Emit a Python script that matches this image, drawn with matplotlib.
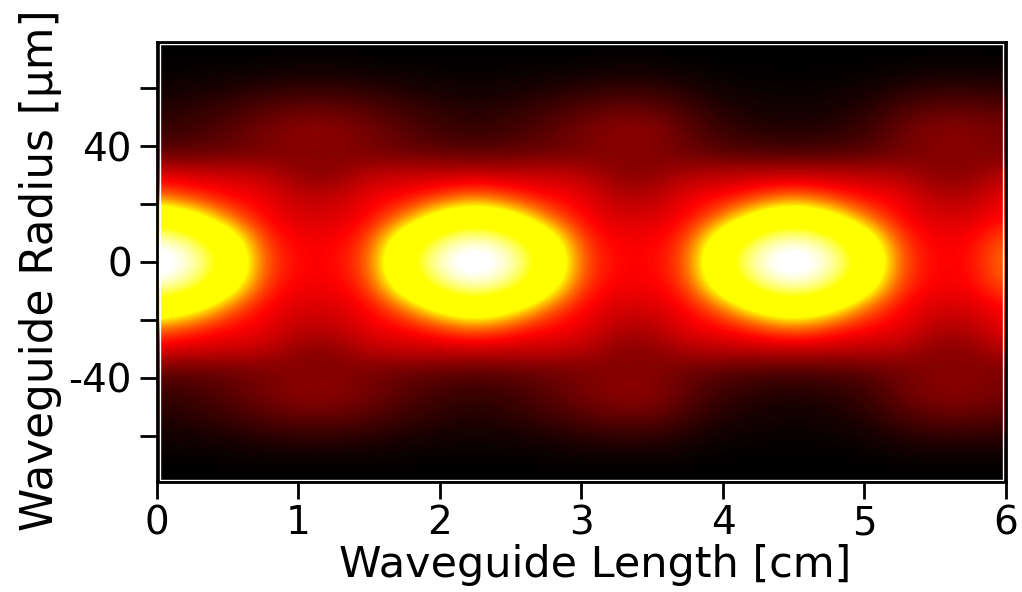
import numpy as np
import matplotlib.pyplot as plt
from matplotlib.colors import LinearSegmentedColormap
from matplotlib.patches import Rectangle

plt.rcParams['font.family'] = ['DejaVu Sans']
plt.rcParams['axes.unicode_minus'] = False

# sample positions of the intensity map
length_cm = np.linspace(0, 6, 25)          # 0, 0.25, ... 6
radius_um = [0, 7.5, 15, 22.5, 30, 37.5, 45, 52.5, 60, 67.5, 75]

# normalised intensity, upper half (radius >= 0),
# one row per radius, one column per length position
intensity_upper = np.array([
    [1.00, 0.92, 0.64, 0.27, 0.21, 0.21, 0.27, 0.64, 0.92, 1.00, 0.92, 0.64, 0.27, 0.21, 0.21, 0.27, 0.64, 0.92, 1.00, 0.92, 0.64, 0.27, 0.21, 0.21, 0.32],
    [0.92, 0.82, 0.54, 0.25, 0.205, 0.205, 0.25, 0.54, 0.82, 0.92, 0.82, 0.54, 0.25, 0.205, 0.205, 0.25, 0.54, 0.82, 0.92, 0.82, 0.54, 0.25, 0.205, 0.205, 0.29],
    [0.62, 0.50, 0.31, 0.21, 0.18, 0.18, 0.21, 0.31, 0.50, 0.62, 0.50, 0.31, 0.21, 0.18, 0.18, 0.21, 0.31, 0.50, 0.62, 0.50, 0.31, 0.21, 0.18, 0.18, 0.22],
    [0.30, 0.25, 0.21, 0.20, 0.16, 0.16, 0.20, 0.21, 0.25, 0.30, 0.25, 0.21, 0.20, 0.15, 0.15, 0.20, 0.21, 0.25, 0.30, 0.25, 0.21, 0.20, 0.15, 0.15, 0.20],
    [0.19, 0.18, 0.175, 0.165, 0.12, 0.115, 0.16, 0.17, 0.17, 0.17, 0.17, 0.17, 0.16, 0.115, 0.115, 0.15, 0.16, 0.165, 0.165, 0.165, 0.16, 0.15, 0.115, 0.115, 0.16],
    [0.085, 0.085, 0.09, 0.10, 0.11, 0.11, 0.10, 0.09, 0.085, 0.08, 0.085, 0.09, 0.10, 0.11, 0.11, 0.09, 0.075, 0.07, 0.065, 0.07, 0.075, 0.095, 0.11, 0.11, 0.10],
    [0.045, 0.055, 0.075, 0.10, 0.12, 0.12, 0.10, 0.075, 0.055, 0.045, 0.055, 0.075, 0.10, 0.12, 0.12, 0.08, 0.05, 0.035, 0.03, 0.035, 0.05, 0.09, 0.115, 0.115, 0.10],
    [0.03, 0.04, 0.055, 0.075, 0.09, 0.09, 0.075, 0.055, 0.04, 0.03, 0.04, 0.055, 0.075, 0.09, 0.09, 0.06, 0.03, 0.02, 0.015, 0.02, 0.035, 0.065, 0.085, 0.085, 0.075],
    [0.015, 0.018, 0.025, 0.035, 0.042, 0.042, 0.035, 0.025, 0.018, 0.015, 0.018, 0.025, 0.035, 0.042, 0.042, 0.028, 0.012, 0.01, 0.008, 0.01, 0.015, 0.03, 0.04, 0.04, 0.035],
    [0.005, 0.005, 0.007, 0.009, 0.011, 0.011, 0.009, 0.007, 0.005, 0.005, 0.005, 0.007, 0.009, 0.011, 0.011, 0.007, 0.004, 0.003, 0.003, 0.003, 0.004, 0.008, 0.01, 0.01, 0.009],
    [0.0] * 25,
])

# field is symmetric about the waveguide axis
intensity = np.vstack([intensity_upper[::-1], intensity_upper[1:]])

# black -> red -> yellow -> white
cmap = LinearSegmentedColormap.from_list('wg', [
    (0.00, (0, 0, 0)),
    (0.21, (1, 0, 0)),
    (0.42, (1, 1, 0)),
    (0.70, (1, 1, 0)),
    (0.93, (1, 1, 1)),
    (1.00, (1, 1, 1)),
])

dx = (length_cm[1] - length_cm[0]) / 2
dy = (radius_um[1] - radius_um[0]) / 2

fig = plt.figure(figsize=(10.22, 5.92), dpi=100)
ax = fig.add_axes([0.1536, 0.186, 0.8307, 0.743])
ax.imshow(intensity, cmap=cmap, vmin=0, vmax=1, origin='lower', aspect='auto',
          interpolation='bicubic',
          extent=[length_cm[0] - dx, length_cm[-1] + dx,
                  -radius_um[-1] - dy, radius_um[-1] + dy])
ax.set_xlim(0, 6)
ax.set_ylim(-76, 76)

ax.set_xticks(range(7))
ax.set_yticks([-40, 0, 40])
ax.set_yticks([-60, -20, 20, 60], minor=True)
ax.tick_params(which='both', direction='out', length=12, width=2, labelsize=28, pad=6)
ax.tick_params(axis='x', pad=4)
for s in ax.spines.values():
    s.set_linewidth(2)
    s.set_color('black')
ax.add_patch(Rectangle((0.003, 0.005), 0.994, 0.99, transform=ax.transAxes,
                       fill=False, edgecolor='white', lw=1))

ax.set_xlabel('Waveguide Length [cm]', fontsize=31)
ax.set_ylabel('Waveguide Radius [μm]', fontsize=31.5)
ax.xaxis.set_label_coords(0.516, -0.142)
ax.yaxis.set_label_coords(-0.112, 0.482)

fig.savefig('out.png', dpi=100)
